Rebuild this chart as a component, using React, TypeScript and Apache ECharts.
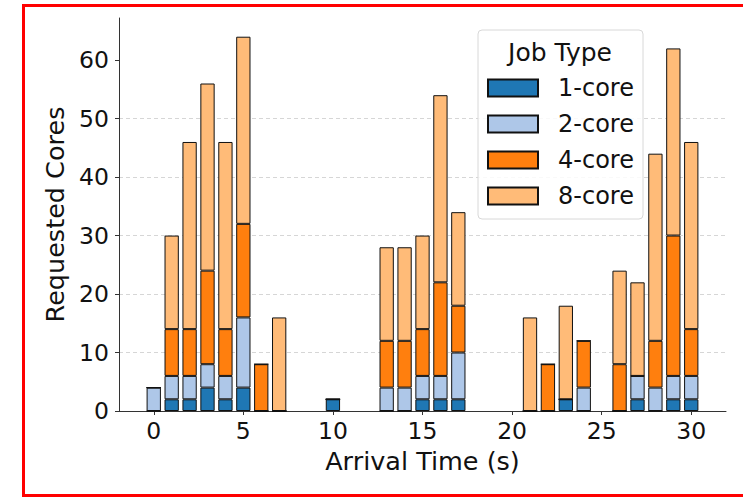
import React, { useEffect, useRef } from "react";
import * as echarts from "echarts";

const times = [0, 1, 2, 3, 4, 5, 6, 7, 10, 13, 14, 15, 16, 17, 21, 22, 23, 24, 26, 27, 28, 29, 30];
const core1 = [0, 2, 2, 4, 2, 4, 0, 0, 2, 0, 0, 2, 2, 2, 0, 0, 2, 0, 0, 2, 0, 2, 2];
const core2 = [4, 4, 4, 4, 4, 12, 0, 0, 0, 4, 4, 4, 4, 8, 0, 0, 0, 4, 0, 4, 4, 4, 4];
const core4 = [0, 8, 8, 16, 8, 16, 8, 0, 0, 8, 8, 8, 16, 8, 0, 8, 0, 8, 8, 0, 8, 24, 8];
const core8 = [0, 16, 32, 32, 32, 32, 0, 16, 0, 16, 16, 16, 32, 16, 16, 0, 16, 0, 16, 16, 32, 32, 32];

const seriesNames = ["1-core", "2-core", "4-core", "8-core"];
const seriesColors = ["#1f77b4", "#aec7e8", "#ff7f0e", "#ffbb78"];
const xTicks = [0, 5, 10, 15, 20, 25, 30];
const yTicks = [0, 10, 20, 30, 40, 50, 60];

const FONT = "DejaVu Sans";

export default function App() {
  const ref = useRef<HTMLDivElement>(null);
  useEffect(() => {
    if (!ref.current) return;
    const chart = echarts.init(ref.current, null, { renderer: "svg" });
    const values = [core1, core2, core4, core8];
    const series = values.map((arr, i) => ({
      name: seriesNames[i],
      type: "bar",
      stack: "total",
      barWidth: 14.3,
      // value first so that the stacked dimension is the y (value) dimension
      encode: { x: 1, y: 0 },
      data: times.map((t, j) => [arr[j], t]),
      itemStyle: {
        color: seriesColors[i],
        borderColor: "#111",
        borderWidth: 1,
      },
      z: 2,
    }));
    chart.setOption({
      animation: false,
      backgroundColor: "#fff",
      grid: { left: 119, right: 17, top: 18, bottom: 87, containLabel: false },
      xAxis: {
        type: "value",
        min: -1.94,
        max: 31.94,
        name: "Arrival Time (s)",
        nameLocation: "middle",
        nameGap: 36,
        nameTextStyle: { fontFamily: FONT, fontSize: 25.5, color: "#111" },
        axisLine: { show: true, onZero: false, lineStyle: { color: "#333", width: 1 } },
        axisTick: { show: true, length: 4, customValues: xTicks, lineStyle: { color: "#333" } },
        axisLabel: { customValues: xTicks, fontFamily: FONT, fontSize: 23.5, color: "#111", margin: 8 },
        splitLine: { show: false },
      },
      yAxis: {
        type: "value",
        min: 0,
        max: 67.2,
        interval: 10,
        name: "Requested Cores",
        nameLocation: "middle",
        nameGap: 46,
        nameRotate: 90,
        nameTextStyle: { fontFamily: FONT, fontSize: 25.5, color: "#111" },
        axisLine: { show: true, onZero: false, lineStyle: { color: "#333", width: 1 } },
        axisTick: { show: true, length: 4, customValues: yTicks, lineStyle: { color: "#333" } },
        axisLabel: { customValues: yTicks, fontFamily: FONT, fontSize: 23.5, color: "#111", margin: 10 },
        splitLine: {
          show: true,
          showMinLine: false,
          showMaxLine: false,
          lineStyle: { color: "#cccccc", type: [4, 3], width: 0.8 },
        },
      },
      legend: {
        orient: "vertical",
        left: 487,
        top: 70,
        padding: 0,
        itemGap: 0,
        itemWidth: 50,
        itemHeight: 17,
        icon: "rect",
        selectedMode: false,
        data: seriesNames,
        textStyle: {
          fontFamily: FONT,
          fontSize: 24,
          color: "#111",
          lineHeight: 36,
          padding: [0, 0, 0, 15],
        },
      },
      graphic: [
        {
          type: "rect",
          z: 3,
          shape: { x: 478, y: 30, width: 165, height: 189, r: 4 },
          style: { fill: "rgba(255,255,255,0.85)", stroke: "#d8d8d8", lineWidth: 1 },
        },
        {
          type: "text",
          z: 5,
          x: 560,
          y: 52,
          style: {
            text: "Job Type",
            fontFamily: FONT,
            fontSize: 25,
            fill: "#111",
            align: "center",
            verticalAlign: "middle",
          },
        },
        {
          type: "rect",
          z: 10,
          silent: true,
          shape: { x: 23.5, y: 5.5, width: 730, height: 490 },
          style: { fill: "none", stroke: "#ff0000", lineWidth: 3 },
        },
      ],
      series,
    });
    return () => chart.dispose();
  }, []);
  return (
    <div
      ref={ref}
      style={{ position: "fixed", left: 0, top: 0, width: 743, height: 498, background: "#fff" }}
    />
  );
}
